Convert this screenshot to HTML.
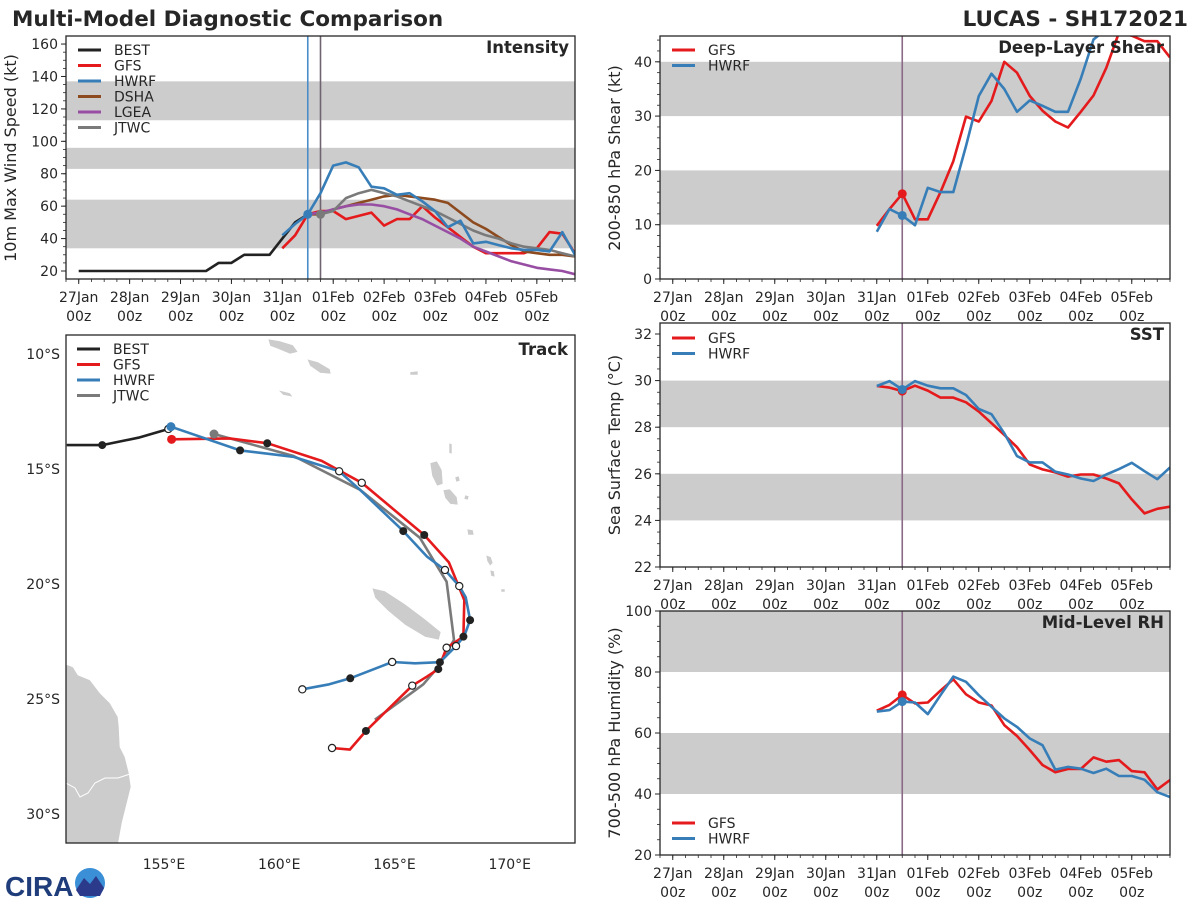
<!DOCTYPE html>
<html><head><meta charset="utf-8"><title>Multi-Model Diagnostic Comparison</title>
<style>
html,body{margin:0;padding:0;background:#fff;}
svg{display:block;font-family:"DejaVu Sans","Liberation Sans",sans-serif;}
</style></head>
<body>
<svg id="chart" width="1200" height="900" viewBox="0 0 1200 900" xmlns="http://www.w3.org/2000/svg">
<text x="12" y="26" font-size="21.5" font-weight="bold" fill="#262626">Multi-Model Diagnostic Comparison</text>
<text x="1188" y="26" font-size="21.5" font-weight="bold" fill="#262626" text-anchor="end">LUCAS - SH172021</text>
<g id="logo">
<text x="5" y="896" font-size="28" font-weight="bold" fill="#1f3d7a" font-family="Liberation Sans,sans-serif">CIRA</text>
<circle cx="90" cy="883" r="15" fill="#3a8fd6"/>
<path d="M76 890 L84 878 L90 884 L96 876 L104 888 L100 896 L80 896 Z" fill="#2c3a8c"/>
</g>
</svg>
<script>
// ===== Data =====
// time axis in days since 27Jan 00z
const dateLabels = ["27Jan","28Jan","29Jan","30Jan","31Jan","01Feb","02Feb","03Feb","04Feb","05Feb"];
const bestDays = [0,0.25,0.5,0.75,1,1.25,1.5,1.75,2,2.25,2.5,2.75,3,3.25,3.5,3.75,4,4.25,4.5];
const bestWind = [20,20,20,20,20,20,20,20,20,20,20,25,25,30,30,30,40,50,55];
const gfsStart = 4.0;
const gfsWind = [34,42,55,57,57,52,54,56,48,52,52,60,53,47,41,35,31,31,31,31,34,44,43,31];
const hwrfStart = 4.0;
const hwrfWind = [42,49,55,68,85,87,84,72,71,67,68,63,57,47,51,37,38,36,34,33,33,32,44,30];
const dshaStart = 4.5;
const dshaWind = [55,55,58,60,62,64,66,67,66,65,64,62,56,50,46,41,36,32,31,30,30,29];
const lgeaStart = 4.5;
const lgeaWind = [55,56,58,60,61,61,60,58,55,52,48,44,40,35,32,29,26,24,22,21,20,18];
const jtwcStart = 4.75;
const jtwcWind = [55,57,65,68,70,68,66,63,60,57,53,49,45,42,40,37,35,34,33,31,29];
const windTicks = [20,40,60,80,100,120,140,160];
const windBands = [[34,64],[83,96],[113,137]];

const shearStart = 4.0;
const gfsShear = [9.8,12.9,15.7,11,11,16,21.7,29.9,29,32.8,40,38,33.7,31,29,27.9,30.8,33.8,38.9,45.4,44.8,43.8,43.8,40.8];
const hwrfShear = [8.7,12.9,11.7,9.9,16.8,16,16,24.5,33.7,37.8,35,30.8,32.9,31.9,30.8,30.8,36.9,44.1,46,48,48,48,48,48];
const shearTicks = [0,10,20,30,40];
const shearBands = [[10,20],[30,40]];

const gfsSst = [29.77,29.7,29.55,29.78,29.57,29.27,29.27,29.07,28.67,28.17,27.67,27.14,26.4,26.19,26.06,25.88,25.97,25.97,25.8,25.59,24.9,24.3,24.5,24.59];
const hwrfSst = [29.77,29.98,29.62,29.98,29.78,29.67,29.67,29.38,28.78,28.56,27.74,26.76,26.49,26.49,26.09,25.97,25.8,25.69,25.97,26.2,26.47,26.11,25.77,26.27];
const sstTicks = [22,24,26,28,30,32];
const sstBands = [[24,26],[28,30]];

const gfsRh = [67.3,69.2,72.5,69.7,70,73.9,77.6,72.7,70,69,62.6,59,54.4,49.5,47.1,48.2,48.2,52,50.6,51.1,47.5,47.1,41.5,44.6];
const hwrfRh = [67,67.5,70.3,70,66.2,72.4,78.5,76.8,72.4,68.6,64.8,62,58.2,56,48,48.9,48.3,46.9,48.3,45.9,45.9,44.7,40.6,39];
const rhTicks = [20,40,60,80,100];
const rhBands = [[40,60],[80,100]];

// Tracks: lon (E), lat (S), marker 0 none, 1 filled, 2 open
const bestLon = [150.78,152.32,153.89,155.19];
const bestLat = [13.96,13.96,13.64,13.26];
const bestMk = [0,1,0,2];
const gfsLon = [155.33,157.85,159.48,161.84,163.58,166.29,167.36,168.03,167.99,167.26,166.9,166.4,165.77,163.76,163.06,162.29];
const gfsLat = [13.71,13.67,13.88,14.65,15.6,17.87,19.06,20.7,22.29,22.77,23.7,24.03,24.42,26.39,27.2,27.13];
const gfsMk = [3,0,1,0,2,1,0,0,1,2,1,0,2,1,0,2];
const hwrfLon = [155.3,158.3,160.61,162.6,163.5,165.38,166.4,167.19,167.81,168.09,168.28,168.03,167.67,166.97,165.89,164.9,163.08,162.17,161.0];
const hwrfLat = [13.16,14.19,14.47,15.1,15.9,17.7,18.8,19.39,20.09,20.58,21.57,22.26,22.7,23.4,23.45,23.39,24.1,24.36,24.58];
const hwrfMk = [3,1,0,2,0,1,0,2,2,0,1,0,2,1,0,2,1,0,2];
const jtwcLon = [157.17,160.61,163.5,166.1,167.26,167.58,166.9,166.25,164.15];
const jtwcLat = [13.48,14.43,15.9,17.99,19.9,22.43,23.6,24.36,25.9];
const jtwcMk = [3,0,0,0,0,0,0,0,0];
const lonTicks = [155,160,165,170];
const latTicks = [10,15,20,25,30];

// ===== Helpers =====
const NS = "http://www.w3.org/2000/svg";
const svg = document.getElementById("chart");
function mk(tag, attrs, parent){
  const e = document.createElementNS(NS, tag);
  for (const k in attrs) e.setAttribute(k, attrs[k]);
  (parent||svg).appendChild(e);
  return e;
}
const C = {best:"#222222", gfs:"#e41a1c", hwrf:"#377eb8", dsha:"#8c4a1e", lgea:"#984ea3", jtwc:"#7a7a7a", band:"#cccccc", axis:"#262626"};

function panel(name, x0, y0, x1, y1, vmin, vmax){
  const g = mk("g", {});
  
  
  const sx = d => x0 + (d + 0.25) * (x1 - x0) / 10;
  const sy = v => y1 - (v - vmin) * (y1 - y0) / (vmax - vmin);
  return {g, sx, sy, x0, y0, x1, y1};
}
function bands(p, arr, nm){
  arr.forEach(b => {
    const top = Math.max(p.sy(b[1]), p.y0), bot = p.sy(b[0]);
    const r = mk("rect", {x:p.x0, y:top, width:p.x1-p.x0, height:bot-top, fill:C.band}, p.g);
    
    
  });
}
function frame(p, nm){
  const r = mk("rect", {x:p.x0, y:p.y0, width:p.x1-p.x0, height:p.y1-p.y0, fill:"none", stroke:C.axis, "stroke-width":1.3});
  
  
}
function yAxis(p, ticks, minorStep, vmin, vmax, nm){
  ticks.forEach(t => {
    const y = p.sy(t);
    mk("line", {x1:p.x0-5, x2:p.x0, y1:y, y2:y, stroke:C.axis, "stroke-width":1});
    const tx = mk("text", {x:p.x0-8, y:y+5, "font-size":14, "text-anchor":"end", fill:C.axis});
    tx.textContent = t;
    
    
  });
  for (let v = vmin; v <= vmax + 1e-6; v += minorStep){
    const y = p.sy(v);
    if (y < p.y0 - 0.5) continue;
    mk("line", {x1:p.x0-3, x2:p.x0, y1:y, y2:y, stroke:C.axis, "stroke-width":0.8});
  }
}
function xAxis(p, nm){
  dateLabels.forEach((lab, i) => {
    const x = p.sx(i);
    mk("line", {x1:x, x2:x, y1:p.y1, y2:p.y1+5, stroke:C.axis, "stroke-width":1});
    const t1 = mk("text", {x:x, y:p.y1+23, "font-size":14, "text-anchor":"middle", fill:C.axis});
    t1.textContent = lab;
    
    
    const t2 = mk("text", {x:x, y:p.y1+42, "font-size":14, "text-anchor":"middle", fill:C.axis});
    t2.textContent = "00z";
    
    
  });
  for (let d = -0.25; d <= 9.75; d += 0.25){
    const x = p.sx(d);
    mk("line", {x1:x, x2:x, y1:p.y1, y2:p.y1+3, stroke:C.axis, "stroke-width":0.8});
  }
}
function yTitle(x, y, txt, nm){
  const t = mk("text", {x:x, y:y, "font-size":16, "text-anchor":"middle", fill:C.axis, transform:`rotate(-90 ${x} ${y})`});
  t.textContent = txt;
  
  
}
function pTitle(p, txt, nm){
  const t = mk("text", {x:p.x1-6, y:p.y0+17, "font-size":16.5, "font-weight":"bold", "text-anchor":"end", fill:C.axis});
  t.textContent = txt;
  
  
}
function series(p, start, vals, color, nm){
  const pts = vals.map((v,i) => p.sx(start + i*0.25).toFixed(1) + "," + p.sy(v).toFixed(1)).join(" ");
  const l = mk("polyline", {points:pts, fill:"none", stroke:color, "stroke-width":2.6, "stroke-linejoin":"round"}, p.cg);
  
  
  return l;
}
function seriesXY(p, days, vals, color, nm){
  const pts = vals.map((v,i) => p.sx(days[i]).toFixed(1) + "," + p.sy(v).toFixed(1)).join(" ");
  const l = mk("polyline", {points:pts, fill:"none", stroke:color, "stroke-width":2.6, "stroke-linejoin":"round"}, p.cg);
  
  
}
function dot(p, d, v, color, nm){
  const c = mk("circle", {cx:p.sx(d), cy:p.sy(v), r:4.5, fill:color}, p.cg);
  
  
}
function vline(p, d, color, nm){
  const x = p.sx(d);
  const l = mk("line", {x1:x, x2:x, y1:p.y0, y2:p.y1, stroke:color, "stroke-width":1.6}, p.cg);
  
  
}
function legend(x, y, entries, nm){
  entries.forEach((e, i) => {
    const yy = y + i*15.5;
    const l = mk("line", {x1:x, x2:x+23, y1:yy, y2:yy, stroke:e[1], "stroke-width":3});
    
    
    const t = mk("text", {x:x+36, y:yy+5, "font-size":14, fill:C.axis});
    t.textContent = e[0];
    
    
  });
}
function clipFor(p, id){
  const defs = mk("defs", {});
  const cp = mk("clipPath", {id:id}, defs);
  mk("rect", {x:p.x0, y:p.y0, width:p.x1-p.x0, height:p.y1-p.y0}, cp);
  p.cg = mk("g", {"clip-path":`url(#${id})`}, p.g);
}

// ===== Intensity =====
const pi = panel("intensity-panel", 66, 36, 575, 279, 20 - 8/1.621, 20 + (271-36)/1.621);
bands(pi, windBands, "intensity");
clipFor(pi, "clipI");
vline(pi, 4.5, "#4a8cc8", "hwrf-init-line");
vline(pi, 4.75, "#6e6470", "jtwc-init-line");
seriesXY(pi, bestDays, bestWind, C.best, "best-intensity-line");
series(pi, gfsStart, gfsWind, C.gfs, "gfs-intensity-line");
series(pi, dshaStart, dshaWind, C.dsha, "dsha-intensity-line");
series(pi, lgeaStart, lgeaWind, C.lgea, "lgea-intensity-line");
series(pi, jtwcStart, jtwcWind, C.jtwc, "jtwc-intensity-line");
series(pi, hwrfStart, hwrfWind, C.hwrf, "hwrf-intensity-line");
dot(pi, 4.5, 55, C.hwrf, "hwrf-intensity-init-dot");
dot(pi, 4.75, 55, C.jtwc, "jtwc-intensity-init-dot");
frame(pi, "intensity");
yAxis(pi, windTicks, 5, 20, 160, "intensity");
xAxis(pi, "intensity");
yTitle(16, 158, "10m Max Wind Speed (kt)", "intensity-y-axis-title");
pTitle(pi, "Intensity", "intensity-title");
legend(78, 50, [["BEST",C.best],["GFS",C.gfs],["HWRF",C.hwrf],["DSHA",C.dsha],["LGEA",C.lgea],["JTWC",C.jtwc]], "intensity-legend");

// ===== Shear =====
const ps = panel("shear-panel", 660, 36, 1170, 279, 0, 243/5.43);
bands(ps, shearBands, "shear");
clipFor(ps, "clipS");
vline(ps, 4.5, "#8a6a86", "shear-init-line");
series(ps, shearStart, gfsShear, C.gfs, "gfs-shear-line");
series(ps, shearStart, hwrfShear, C.hwrf, "hwrf-shear-line");
dot(ps, 4.5, gfsShear[2], C.gfs, "gfs-shear-init-dot");
dot(ps, 4.5, hwrfShear[2], C.hwrf, "hwrf-shear-init-dot");
frame(ps, "shear");
yAxis(ps, shearTicks, 2, 0, 44, "shear");
xAxis(ps, "shear");
yTitle(620, 158, "200-850 hPa Shear (kt)", "shear-y-axis-title");
pTitle(ps, "Deep-Layer Shear", "shear-title");
legend(672, 50, [["GFS",C.gfs],["HWRF",C.hwrf]], "shear-legend");

// ===== SST =====
const pt = panel("sst-panel", 660, 323, 1170, 567, 22, 22 + 244/23.3);
bands(pt, sstBands, "sst");
clipFor(pt, "clipT");
vline(pt, 4.5, "#8a6a86", "sst-init-line");
series(pt, shearStart, gfsSst, C.gfs, "gfs-sst-line");
series(pt, shearStart, hwrfSst, C.hwrf, "hwrf-sst-line");
dot(pt, 4.5, gfsSst[2], C.gfs, "gfs-sst-init-dot");
dot(pt, 4.5, hwrfSst[2], C.hwrf, "hwrf-sst-init-dot");
frame(pt, "sst");
yAxis(pt, sstTicks, 0.5, 22, 32.5, "sst");
xAxis(pt, "sst");
yTitle(620, 445, "Sea Surface Temp (°C)", "sst-y-axis-title");
pTitle(pt, "SST", "sst-title");
legend(672, 338, [["GFS",C.gfs],["HWRF",C.hwrf]], "sst-legend");

// ===== RH =====
const pr = panel("rh-panel", 660, 611, 1170, 855, 20, 100);
bands(pr, rhBands, "rh");
clipFor(pr, "clipR");
vline(pr, 4.5, "#8a6a86", "rh-init-line");
series(pr, shearStart, gfsRh, C.gfs, "gfs-rh-line");
series(pr, shearStart, hwrfRh, C.hwrf, "hwrf-rh-line");
dot(pr, 4.5, gfsRh[2], C.gfs, "gfs-rh-init-dot");
dot(pr, 4.5, hwrfRh[2], C.hwrf, "hwrf-rh-init-dot");
frame(pr, "rh");
yAxis(pr, rhTicks, 5, 20, 100, "rh");
xAxis(pr, "rh");
yTitle(620, 733, "700-500 hPa Humidity (%)", "rh-y-axis-title");
pTitle(pr, "Mid-Level RH", "rh-title");
legend(672, 823, [["GFS",C.gfs],["HWRF",C.hwrf]], "rh-legend");

// ===== Track map =====
const tp = {x0:66, y0:335, x1:575, y1:843};
const lx = lon => 164 + (lon - 155) * 23.05;
const ly = lat => 354 + (lat - 10) * 23;
const tg = mk("g", {});


const tdefs = mk("defs", {}, tg);
const tcp = mk("clipPath", {id:"clipTrack"}, tdefs);
mk("rect", {x:tp.x0, y:tp.y0, width:tp.x1-tp.x0, height:tp.y1-tp.y0}, tcp);
const tcg = mk("g", {"clip-path":"url(#clipTrack)"}, tg);
const land = [
 ["australia-land","66,665 68,665 73,667 78,675 90,680 100,693 110,703 118,717 119,727 120,747 125,757 129,773 131,787 127,803 122,823 118,845 60,845 60,665"],
 ["new-caledonia-land","372,588 385,591 405,604 425,619 441,632 439,640 425,637 405,625 388,611 375,598"],
 ["solomon-island-1","268,339 280,341 293,345 298,352 290,354 278,349 270,346"],
 ["solomon-island-2","307,359 318,362 330,369 331,374 320,373 310,366"],
 ["solomon-island-3","278,390 290,393 293,397 283,395"],
 ["vanuatu-island-1","430,463 437,461 442,470 443,484 437,486 432,476"],
 ["vanuatu-island-2","443,490 450,489 457,497 458,505 450,504 445,498"],
 ["vanuatu-island-3","449,443 452,444 452,454 449,453"],
 ["vanuatu-island-4","455,477 459,476 460,481 456,482"],
 ["vanuatu-island-5","465,495 469,496 468,500 464,499"],
 ["vanuatu-island-6","467,529 473,530 474,535 468,535"],
 ["vanuatu-island-7","486,555 491,557 493,563 490,566 487,561"],
 ["vanuatu-island-8","490,570 494,571 495,577 491,576"],
 ["vanuatu-island-9","501,589 505,589 505,592 501,592"],
 ["island-small-1","410,372 418,371 418,375 410,375"]
];
land.forEach(l => {
  const p = mk("polygon", {points:l[1], fill:"#cccccc", stroke:"#ffffff", "stroke-width":0.6}, tcg);
  
  
});
mk("polyline", {points:"66,783 75,788 80,797 88,793 95,783 105,778 118,778 130,774", fill:"none", stroke:"#fff", "stroke-width":1}, tcg);
function track(lons, lats, mks, color, nm){
  const pts = lons.map((lo,i) => lx(lo).toFixed(1) + "," + ly(lats[i]).toFixed(1)).join(" ");
  const l = mk("polyline", {points:pts, fill:"none", stroke:color, "stroke-width":2.6, "stroke-linejoin":"round"}, tcg);
  
  
}
function trackMarks(lons, lats, mks, color, nm){
  lons.forEach((lo,i) => {
    if (!mks[i]) return;
    const cx = lx(lo), cy = ly(lats[i]);
    let c;
    if (mks[i] === 1) c = mk("circle", {cx:cx, cy:cy, r:4, fill:"#222"}, tcg);
    else if (mks[i] === 2) c = mk("circle", {cx:cx, cy:cy, r:3.6, fill:"#fff", stroke:"#222", "stroke-width":1.2}, tcg);
    else c = mk("circle", {cx:cx, cy:cy, r:4.5, fill:color}, tcg);
    
    
  });
}
track(bestLon, bestLat, bestMk, C.best, "best-track-line");
track(jtwcLon, jtwcLat, jtwcMk, C.jtwc, "jtwc-track-line");
track(gfsLon, gfsLat, gfsMk, C.gfs, "gfs-track-line");
track(hwrfLon, hwrfLat, hwrfMk, C.hwrf, "hwrf-track-line");
trackMarks(bestLon, bestLat, bestMk, C.best, "best-track");
trackMarks(jtwcLon, jtwcLat, jtwcMk, C.jtwc, "jtwc-track");
trackMarks(gfsLon, gfsLat, gfsMk, C.gfs, "gfs-track");
trackMarks(hwrfLon, hwrfLat, hwrfMk, C.hwrf, "hwrf-track");
const tf = mk("rect", {x:tp.x0, y:tp.y0, width:tp.x1-tp.x0, height:tp.y1-tp.y0, fill:"none", stroke:C.axis, "stroke-width":1.3});


lonTicks.forEach(lo => {
  const t = mk("text", {x:lx(lo), y:869, "font-size":14, "text-anchor":"middle", fill:C.axis});
  t.textContent = lo + "°E";
  
  
});
latTicks.forEach(la => {
  const t = mk("text", {x:60, y:ly(la)+5, "font-size":14, "text-anchor":"end", fill:C.axis});
  t.textContent = la + "°S";
  
  
});
const ttl = mk("text", {x:568, y:355, "font-size":16.5, "font-weight":"bold", "text-anchor":"end", fill:C.axis});
ttl.textContent = "Track";


legend(77, 349, [["BEST",C.best],["GFS",C.gfs],["HWRF",C.hwrf],["JTWC",C.jtwc]], "track-legend");
</script>
</body></html>
